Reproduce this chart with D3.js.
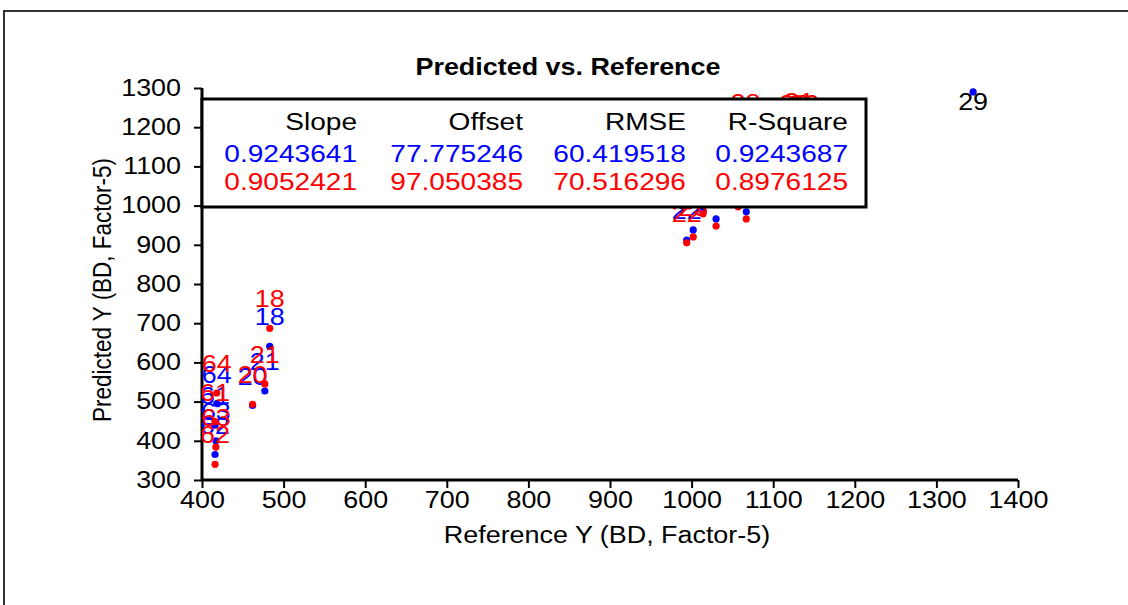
<!DOCTYPE html>
<html>
<head>
<meta charset="utf-8">
<script src="https://cdn.jsdelivr.net/npm/d3@7"></script>
<style>
  body { margin: 0; background: #fff; }
  svg { display: block; }
  text { font-family: "Liberation Sans", Arial, sans-serif; }
</style>
</head>
<body>
<svg id="chart" width="1128" height="605"></svg>
<script>
// Samples: reference value and the two predicted series (blue / red models)
const sampleNames   = ["18", "20", "21", "22", "23", "24", "25", "26", "27", "28", "29", "30", "31", "32", "61", "62", "63", "64"];
const referenceY    = [483, 462, 477, 994, 1002, 1014, 1030, 1067, 1057, 1066, 1345, 1126, 1132, 1138, 416, 416, 417, 418];
const predictedBlue = [641, 490, 527, 912, 938, 984, 966, 984, 1012, 1170, 1290, 1172, 1168, 1175, 440, 365, 400, 495];
const predictedRed  = [687, 493, 545, 905, 920, 979, 948, 966, 997, 1188, null, 1186, 1190, 1186, 449, 340, 384, 522];

// Samples whose name is printed in black
const blackLabels = ["29"];

const xTicks = [400, 500, 600, 700, 800, 900, 1000, 1100, 1200, 1300, 1400];
const yTicks = [300, 400, 500, 600, 700, 800, 900, 1000, 1100, 1200, 1300];
const xMinorTicks = [450, 550, 650, 750, 850, 950, 1050, 1150, 1250, 1350];
const yMinorTicks = [350, 450, 550, 650, 750, 850, 950, 1050, 1150, 1250];

// Regression statistics table
const statHeaders = ["Slope", "Offset", "RMSE", "R-Square"];
const statsBlue   = ["0.9243641", "77.775246", "60.419518", "0.9243687"];
const statsRed    = ["0.9052421", "97.050385", "70.516296", "0.8976125"];

const BLUE = "#0000ff", RED = "#ff0000";
const WIDE = 1.17;   // horizontal widening of the lettering

const svg = d3.select("#chart");
const plot = { left: 202, right: 1018, top: 88, bottom: 480 };

const x = d3.scaleLinear().domain([400, 1400]).range([plot.left, plot.right]);
const y = d3.scaleLinear().domain([300, 1300]).range([plot.bottom, plot.top]);

// Widen text glyphs horizontally around each text's anchor point
function widen(sel) {
  sel.each(function () {
    const t = d3.select(this);
    const ax = +(t.attr("x") || 0);
    t.attr("transform", `translate(${ax},0) scale(${WIDE},1) translate(${-ax},0)`);
  });
}

// Outer frame (top and left edges)
svg.append("path")
  .attr("d", "M4,605 V11 H1128")
  .attr("fill", "none").attr("stroke", "#333").attr("stroke-width", 2);

// Title
svg.append("text")
  .attr("x", 568).attr("y", 75)
  .attr("text-anchor", "middle")
  .attr("font-size", 23).attr("font-weight", "bold")
  .text("Predicted vs. Reference")
  .call(widen);

// Axes
const gx = svg.append("g").attr("transform", `translate(0,${plot.bottom})`);
gx.call(d3.axisBottom(x).tickValues(xMinorTicks).tickSize(5).tickFormat(""));
gx.call(d3.axisBottom(x).tickValues(xTicks).tickSize(8).tickPadding(4).tickFormat(d3.format("d")));

const gy = svg.append("g").attr("transform", `translate(${plot.left},0)`);
gy.call(d3.axisLeft(y).tickValues(yMinorTicks).tickSize(5).tickFormat(""));
gy.call(d3.axisLeft(y).tickValues(yTicks).tickSize(8).tickPadding(13).tickFormat(d3.format("d")));

[gx, gy].forEach(g => {
  g.selectAll(".domain").attr("stroke", "#000").attr("stroke-width", 3);
  g.selectAll(".tick line").attr("stroke", "#000").attr("stroke-width", 2);
  g.selectAll(".tick text").attr("font-size", 23).attr("fill", "#000")
    .attr("font-family", "Liberation Sans, Arial, sans-serif")
    .call(widen);
});
gx.selectAll(".domain").attr("d", `M${plot.left},0H${plot.right}`);
gy.selectAll(".domain").attr("d", `M0,${plot.bottom}V${plot.top}`);

// Axis titles
svg.append("text")
  .attr("x", 607).attr("y", 543)
  .attr("text-anchor", "middle").attr("font-size", 23)
  .text("Reference Y (BD, Factor-5)")
  .call(widen);
svg.append("text")
  .attr("transform", `translate(111,290) scale(${WIDE},1) rotate(-90)`)
  .attr("text-anchor", "middle").attr("font-size", 22.5)
  .text("Predicted Y (BD, Factor-5)");

// Points and sample labels, clipped to the plotting area
svg.append("clipPath").attr("id", "plotClip")
  .append("rect")
  .attr("x", plot.left).attr("y", plot.top - 4)
  .attr("width", plot.right - plot.left).attr("height", plot.bottom - plot.top + 4);

const layer = svg.append("g").attr("clip-path", "url(#plotClip)");

function drawSeries(values, color) {
  const pts = sampleNames.map((name, i) => ({ name, ref: referenceY[i], pred: values[i] }))
    .filter(d => d.pred != null);
  const g = layer.append("g");
  g.selectAll("circle").data(pts).join("circle")
    .attr("cx", d => x(d.ref)).attr("cy", d => y(d.pred))
    .attr("r", 3.6).attr("fill", color);
  g.selectAll("text").data(pts).join("text")
    .attr("x", d => x(d.ref))
    .attr("y", d => {
      const cy = y(d.pred);
      return (cy - 40 < plot.top) ? cy + 18 : cy - 21;
    })
    .attr("text-anchor", "middle").attr("font-size", 23)
    .attr("fill", d => blackLabels.includes(d.name) ? "#000" : color)
    .text(d => d.name)
    .call(widen);
}
drawSeries(predictedBlue, BLUE);
drawSeries(predictedRed, RED);

// Statistics box
const box = { x: 202, y: 99, w: 664, h: 108 };
const legend = svg.append("g");
legend.append("rect")
  .attr("x", box.x).attr("y", box.y).attr("width", box.w).attr("height", box.h)
  .attr("fill", "#fff").attr("stroke", "#000").attr("stroke-width", 3);

const colRight = [357, 523, 686, 848];
const rows = [
  { values: statHeaders, color: "#000", y: 130 },
  { values: statsBlue, color: BLUE, y: 162 },
  { values: statsRed, color: RED, y: 190 }
];
rows.forEach(r => {
  legend.selectAll(null).data(r.values).join("text")
    .attr("x", (d, i) => colRight[i]).attr("y", r.y)
    .attr("text-anchor", "end").attr("font-size", 24)
    .attr("fill", r.color)
    .text(d => d)
    .call(widen);
});
</script>
</body>
</html>
